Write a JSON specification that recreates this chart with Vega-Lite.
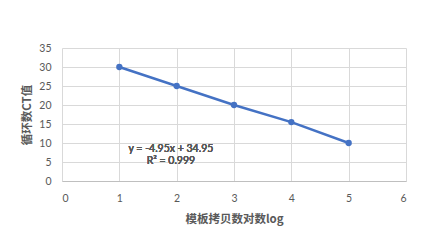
{
  "$schema": "https://vega.github.io/schema/vega-lite/v6.json",
  "autosize": {"type": "none"},
  "width": 344,
  "height": 133,
  "padding": {"left": 62, "top": 48, "right": 19, "bottom": 62},
  "background": "white",
  "config": {"view": {"stroke": null}, "font": "Lato"},
  "data": {"values": [
    {"log": 1, "ct": 30},
    {"log": 2, "ct": 25},
    {"log": 3, "ct": 20},
    {"log": 4, "ct": 15.5},
    {"log": 5, "ct": 10}
  ]},
  "layer": [
    {
      "mark": {"type": "line", "color": "#4472c4", "strokeWidth": 2.5, "point": {"filled": true, "size": 40, "color": "#4472c4"}},
      "encoding": {
        "x": {"field": "log", "type": "quantitative", "scale": {"domain": [0, 6], "nice": false},
          "axis": {"title": "模板拷贝数对数log", "values": [0,1,2,3,4,5,6], "format": "d", "labelOverlap": false, "grid": true, "gridColor": "#d9d9d9", "domainColor": "#bfbfbf", "ticks": false,
            "labelFontSize": 10.5, "labelColor": "#595959", "labelPadding": 12, "labelFont": "Lato",
            "titleFont": "Noto Sans CJK SC", "titleFontSize": 11.5, "titleFontWeight": 600, "titleColor": "#595959", "titlePadding": 10}},
        "y": {"field": "ct", "type": "quantitative", "scale": {"domain": [0, 35], "nice": false},
          "axis": {"title": "循环数CT值", "values": [0,5,10,15,20,25,30,35], "format": "d", "labelOverlap": false, "grid": true, "gridColor": "#d9d9d9", "domain": false, "ticks": false,
            "labelFontSize": 10.5, "labelColor": "#595959", "labelPadding": 11, "labelFont": "Lato",
            "titleFont": "Noto Sans CJK SC", "titleFontSize": 11.5, "titleFontWeight": 600, "titleColor": "#595959", "titlePadding": 6}}
      }
    },
    {
      "mark": {"type": "text", "text": ["y = -4.95x + 34.95", "R² = 0.999"], "font": "Lato", "fontSize": 10.5, "fontWeight": 400, "color": "#595959", "align": "center", "baseline": "middle", "lineHeight": 12},
      "encoding": {
        "x": {"datum": 1.9, "type": "quantitative",
          "axis": {"title": "模板拷贝数对数log", "values": [0,1,2,3,4,5,6], "format": "d", "labelOverlap": false, "grid": true, "gridColor": "#d9d9d9", "domainColor": "#bfbfbf", "ticks": false,
            "labelFontSize": 10.5, "labelColor": "#595959", "labelPadding": 12, "labelFont": "Lato",
            "titleFont": "Noto Sans CJK SC", "titleFontSize": 11.5, "titleFontWeight": 600, "titleColor": "#595959", "titlePadding": 10}},
        "y": {"datum": 8.3, "type": "quantitative",
          "axis": {"title": "循环数CT值", "values": [0,5,10,15,20,25,30,35], "format": "d", "labelOverlap": false, "grid": true, "gridColor": "#d9d9d9", "domain": false, "ticks": false,
            "labelFontSize": 10.5, "labelColor": "#595959", "labelPadding": 11, "labelFont": "Lato",
            "titleFont": "Noto Sans CJK SC", "titleFontSize": 11.5, "titleFontWeight": 600, "titleColor": "#595959", "titlePadding": 6}}
      }
    }
  ]
}
